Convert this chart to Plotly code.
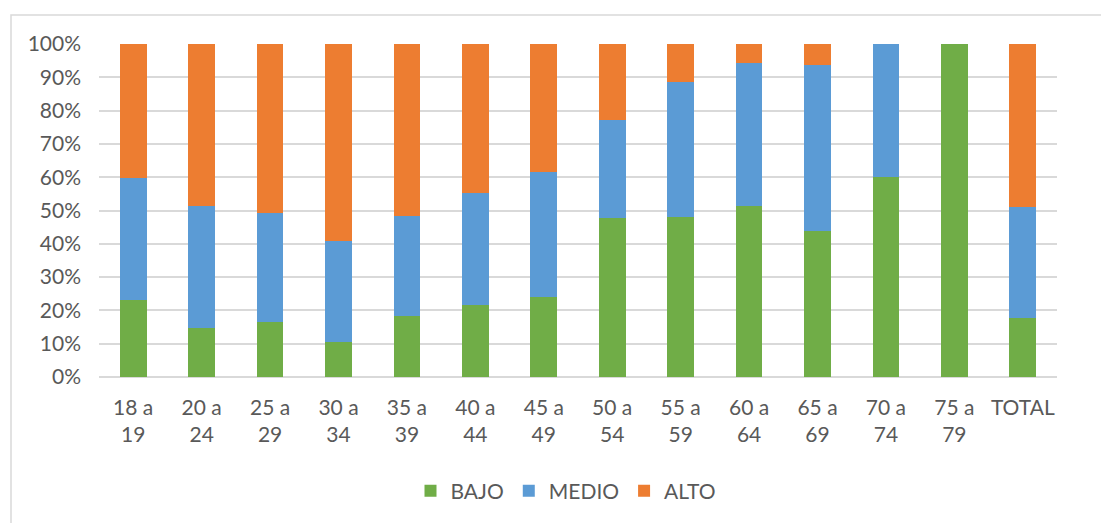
import plotly.graph_objects as go

categories = ["18 a<br>19", "20 a<br>24", "25 a<br>29", "30 a<br>34", "35 a<br>39", "40 a<br>44",
              "45 a<br>49", "50 a<br>54", "55 a<br>59", "60 a<br>64", "65 a<br>69", "70 a<br>74",
              "75 a<br>79", "TOTAL"]
bajo = [23.0, 14.6, 16.6, 10.6, 18.2, 21.5, 24.1, 47.6, 47.9, 51.4, 43.7, 60.0, 100.0, 17.6]
medio = [36.9, 36.8, 32.6, 30.1, 30.3, 33.8, 37.4, 29.7, 40.6, 42.8, 50.1, 40.0, 0.0, 33.4]
alto = [40.1, 48.6, 50.8, 59.3, 51.5, 44.7, 38.5, 22.7, 11.5, 5.8, 6.2, 0.0, 0.0, 49.0]

W, H = 1101, 523
ml, mr, mt, mb = 99, 44, 44, 146
pw, ph = W - ml - mr, H - mt - mb

font = dict(family="Lato, Liberation Sans, sans-serif", size=21, color="#595959")

fig = go.Figure()
for name, vals, col in [("BAJO", bajo, "#70AD47"), ("MEDIO", medio, "#5B9BD5"), ("ALTO", alto, "#ED7D31")]:
    fig.add_trace(go.Bar(x=categories, y=vals, name=name, marker=dict(color=col, line=dict(width=0))))

fig.update_layout(
    width=W, height=H,
    barmode="stack", bargap=0.61,
    margin=dict(l=ml, r=mr, t=mt, b=mb),
    paper_bgcolor="white", plot_bgcolor="white",
    font=font,
    showlegend=True,
    legend=dict(orientation="h", x=(566 - ml) / pw, xanchor="center", y=(H - mb - 491) / ph, yanchor="middle",
                font=dict(size=21, color="#595959"), itemsizing="constant", traceorder="normal"),
    xaxis=dict(showgrid=False, showline=False, ticks="", tickfont=dict(size=21, color="#595959"),
               ticklabelstandoff=16),
    yaxis=dict(range=[0, 100], dtick=10, ticksuffix="%", showgrid=True, gridcolor="#d9d9d9", gridwidth=1.5,
               zeroline=True, zerolinecolor="#d9d9d9", zerolinewidth=1.5, showline=False,
               tickfont=dict(size=21, color="#595959"), ticklabelstandoff=17),
    shapes=[dict(type="rect", xref="paper", yref="paper",
                 x0=(11 - ml) / pw, x1=(W + 20 - ml) / pw,
                 y0=(H - mb - (H + 20)) / ph, y1=(H - mb - 15) / ph,
                 line=dict(color="#d9d9d9", width=1.5), fillcolor="rgba(0,0,0,0)", layer="below")],
)

fig.write_html("out.html")
